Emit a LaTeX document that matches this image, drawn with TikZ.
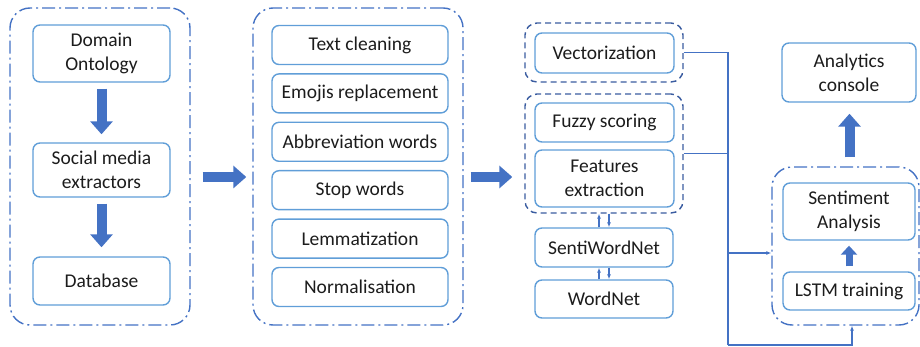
\documentclass[tikz,border=0pt]{standalone}
\usepackage{fontspec}
\setmainfont{Carlito}
\usepackage{tikz}
\usetikzlibrary{arrows.meta,positioning}
\definecolor{boxblue}{RGB}{96,158,216}
\definecolor{groupblue}{RGB}{68,114,196}
\definecolor{dashblue}{RGB}{58,92,160}
\definecolor{inkgray}{RGB}{28,28,28}
\tikzset{
  every node/.style={
    font=\fontsize{19.5}{24}\selectfont
  },
  stage/.style={
    shape=rectangle,
    rounded corners=7pt,
    draw=boxblue,
    line width=1.4pt,
    fill=white,
    text=inkgray,
    minimum width=137pt,
    minimum height=39pt,
    inner sep=0pt,
    align=center
  },
  phase/.style={
    shape=rectangle,
    draw=groupblue,
    line width=1.4pt,
    rounded corners=20pt,
    dash pattern=on 13pt off 4pt on 2pt off 4pt,
    inner sep=0pt
  },
  bundle/.style={
    shape=rectangle,
    draw=dashblue,
    line width=1.4pt,
    rounded corners=12pt,
    dash pattern=on 6pt off 4pt,
    inner sep=0pt
  },
  flow/.style={
    draw=groupblue,
    line width=10pt,
    -{Triangle[length=13pt,width=22pt]}
  },
  link/.style={
    draw=groupblue,
    line width=1.1pt
  },
  tip/.style={
    link,
    -{Latex[length=5pt,width=4pt]}
  }
}

\begin{document}
\begin{tikzpicture}[x=1pt,y=-1pt]
  \useasboundingbox (0,0) rectangle (920,347);

  % data acquisition
  \node [phase, minimum width=180pt, minimum height=317pt] (acquisition) at (100,166.5) {};
  \node [stage, minimum height=57pt] (ontology) at (101.5,53.5) {Domain\\Ontology};
  \node [stage, minimum height=54pt] (extractors) at (101.5,170) {Social media\\extractors};
  \node [stage, minimum height=48pt] (database) at (101.5,281) {Database};
  \draw [flow, shorten <=6pt, shorten >=8pt] (ontology) -- (extractors);
  \draw [flow, shorten <=6pt, shorten >=9pt] (extractors) -- (database);

  % preprocessing
  \node [phase, minimum width=210pt, minimum height=317pt] (preprocessing) at (358,166.5) {};
  \node [stage, minimum width=176pt] (cleaning) at (360,45) {Text cleaning};
  \node [stage, minimum width=176pt, below=8pt of cleaning] (emojis) {Emojis replacement};
  \node [stage, minimum width=176pt, below=8pt of emojis] (abbreviation) {Abbreviation words};
  \node [stage, minimum width=176pt, below=8pt of abbreviation] (stopwords) {Stop words};
  \node [stage, minimum width=176pt, below=8pt of stopwords] (lemmatization) {Lemmatization};
  \node [stage, minimum width=176pt, below=8pt of lemmatization] (normalisation) {Normalisation};
  \draw [flow, shorten <=12pt, shorten >=6pt]
    ([yshift=-10.5pt]acquisition.east) -- ([yshift=-10.5pt]preprocessing.west);

  % features
  \node [bundle, minimum width=158pt, minimum height=59pt] (vectors) at (604,52.5) {};
  \node [stage, minimum width=139pt, minimum height=40pt] (vectorization) at (604.5,53) {Vectorization};
  \node [bundle, minimum width=158pt, minimum height=119pt] (lexicon) at (604,153.5) {};
  \node [stage, minimum width=139pt] (fuzzy) at (604.5,122.5) {Fuzzy scoring};
  \node [stage, minimum width=139pt, minimum height=57pt, below=6.6pt of fuzzy] (features) {Features\\extraction};
  \node [stage, minimum width=138pt] (senti) at (604,247.5) {SentiWordNet};
  \node [stage, minimum width=138pt, minimum height=38pt] (wordnet) at (604,299) {WordNet};
  \draw [flow, shorten <=7pt]
    ([yshift=-10.5pt]preprocessing.east) -- ([yshift=-10.5pt,xshift=-12pt]preprocessing.east -| lexicon.west);
  \draw [tip] ([xshift=-5pt]senti.north) -- ([xshift=-5pt]lexicon.south);
  \draw [tip] ([xshift=5pt]lexicon.south) -- ([xshift=5pt]senti.north);
  \draw [tip] ([xshift=-5pt]wordnet.north) -- ([xshift=-5pt]senti.south);
  \draw [tip] ([xshift=5pt]senti.south) -- ([xshift=5pt]wordnet.north);

  % model
  \node [phase, minimum width=147pt, minimum height=158pt] (model) at (845.5,246) {};
  \node [stage, minimum width=132pt, minimum height=57pt] (sentiment) at (849,211.5) {Sentiment\\Analysis};
  \node [stage, minimum width=132pt, minimum height=38pt] (lstm) at (849,291) {LSTM training};
  \node [stage, minimum width=134pt, minimum height=59pt] (console) at (849,72.5) {Analytics\\console};
  \draw [flow, line width=7pt, -{Triangle[length=9pt,width=16pt]}, shorten <=5pt, shorten >=5pt]
    (lstm) -- (sentiment);
  \draw [flow, shorten <=9pt, shorten >=11pt] ([xshift=4pt]model.north) -- ([xshift=4pt]model.north |- console.south);

  % connectors
  \coordinate (corner) at (728,345);
  \draw [link] (vectors.east) -| (corner);
  \draw [link] (lexicon.east) -- (lexicon.east -| corner);
  \draw [tip] (corner |- 0,253) -- ([yshift=-7pt]model.west);
  \draw [tip] (corner) -| ([xshift=6.5pt]model.south);
\end{tikzpicture}
\end{document}
